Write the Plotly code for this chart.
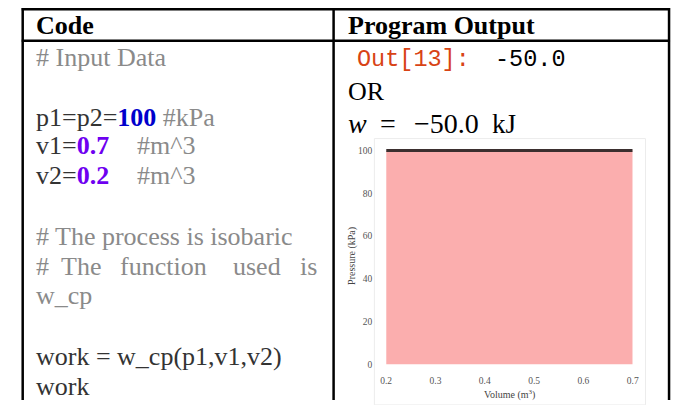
import plotly.graph_objects as go

# ---- data ----
volume = [0.2, 0.7]          # m^3
pressure = [100, 100]        # kPa
x_ticks = [0.2, 0.3, 0.4, 0.5, 0.6, 0.7]
y_ticks = [0, 20, 40, 60, 80, 100]

W, H = 678, 405
SERIF = "Liberation Serif"
MONO = "Liberation Mono"

def X(px):
    return px / W

def Y(py):
    return 1 - py / H

fig = go.Figure()
fig.add_trace(go.Scatter(
    x=volume, y=pressure, mode="lines", fill="tozeroy",
    fillcolor="#FBAEAE", line=dict(color="#3b2f2f", width=3),
    hoverinfo="skip", showlegend=False,
))

annotations = []

def ann(text, x, base, size=26, color="#000", family=SERIF, **kw):
    annotations.append(dict(
        text=text, x=X(x), y=Y(base - 0.34 * size), xref="paper", yref="paper",
        xanchor=kw.pop("xanchor", "left"), yanchor="middle", showarrow=False,
        font=dict(family=family, size=size, color=color), borderpad=0, **kw))

GRAY = "#8a8a8a"
DARK = "#333333"
BLUE = "#0000cc"
VIOLET = "#6e00f0"

# headers
ann("<b>Code</b>", 30, 33, 26)
ann("<b>Program Output</b>", 347, 33, 26)

# code column
ann("# Input Data", 30, 65, 26, GRAY)
ann("p1=p2=<b><span style='color:%s'>100</span></b> <span style='color:%s'>#kPa</span>" % (BLUE, GRAY), 30, 126, 26, DARK)
ann("v1=<b><span style='color:%s'>0.7</span></b>" % VIOLET, 30, 155, 26, DARK)
ann("#m^3", 132, 155, 26, GRAY)
ann("v2=<b><span style='color:%s'>0.2</span></b>" % VIOLET, 30, 185, 26, DARK)
ann("#m^3", 132, 185, 26, GRAY)
ann("# The process is isobaric", 30, 247, 26, GRAY)
for word, wx in [("#", 30), ("The", 55), ("function", 115), ("used", 230), ("is", 298)]:
    ann(word, wx, 278, 26, GRAY)
ann("w_cp", 30, 308, 26, GRAY)
ann("work = w_cp(p1,v1,v2)", 30, 370, 26, DARK)
ann("work", 30, 400, 26, DARK)

# output column
ann("Out[13]:", 356, 66, 23.5, "#d84315", MONO)
ann("-50.0", 497, 66, 23.5, "#000", MONO)
ann("OR", 347, 100, 26)
ann("<i>w</i>", 347, 133, 28)
ann("=", 380, 133, 28)
ann("−50.0", 414, 133, 28)
ann("kJ", 494, 133, 27)

# chart axis titles
ann("Pressure (kPa)", 352, 262, 10, "#444", textangle=-90, xanchor="center")
ann("Volume (m<sup>3</sup>)", 512.5, 403, 10, "#444", xanchor="center")

shapes = []
def line(x0, y0, x1, y1, w=2.5, c="#000"):
    shapes.append(dict(type="line", xref="paper", yref="paper",
                       x0=X(x0), y0=Y(y0), x1=X(x1), y1=Y(y1),
                       line=dict(color=c, width=w)))

# chart frame (image border)
shapes.append(dict(type="rect", xref="paper", yref="paper",
                   x0=X(375), y0=Y(410), x1=X(651), y1=Y(139),
                   line=dict(color="#ececec", width=1), layer="below"))
# table lines
line(16, 7.5, 676, 7.5)
line(16, 39.5, 676, 39.5)
line(17, 6, 17, 405)
line(333.5, 6, 333.5, 405)
line(675, 6, 675, 405)

fig.update_layout(
    width=W, height=H, margin=dict(l=0, r=0, t=0, b=0),
    paper_bgcolor="white", plot_bgcolor="white",
    showlegend=False,
    annotations=annotations, shapes=shapes,
    xaxis=dict(domain=[X(387), X(638)], range=[0.2, 0.7],
               tickvals=x_ticks, ticktext=[str(v) for v in x_ticks],
               showgrid=False, zeroline=False, showline=False, ticks="",
               ticklabelstandoff=9,
               tickfont=dict(family=SERIF, size=9.5, color="#555")),
    yaxis=dict(domain=[Y(369), Y(148)], range=[0, 101.4],
               tickvals=y_ticks, ticktext=[str(v) for v in y_ticks],
               showgrid=False, zeroline=False, showline=False, ticks="",
               ticklabelstandoff=13,
               tickfont=dict(family=SERIF, size=9.5, color="#555")),
)

fig.write_html(
    "out.html",
    config={"displayModeBar": False},
    post_script="document.documentElement.style.overflow='hidden';"
                "document.body.style.overflow='hidden';"
                "document.body.style.margin='0px';",
)
